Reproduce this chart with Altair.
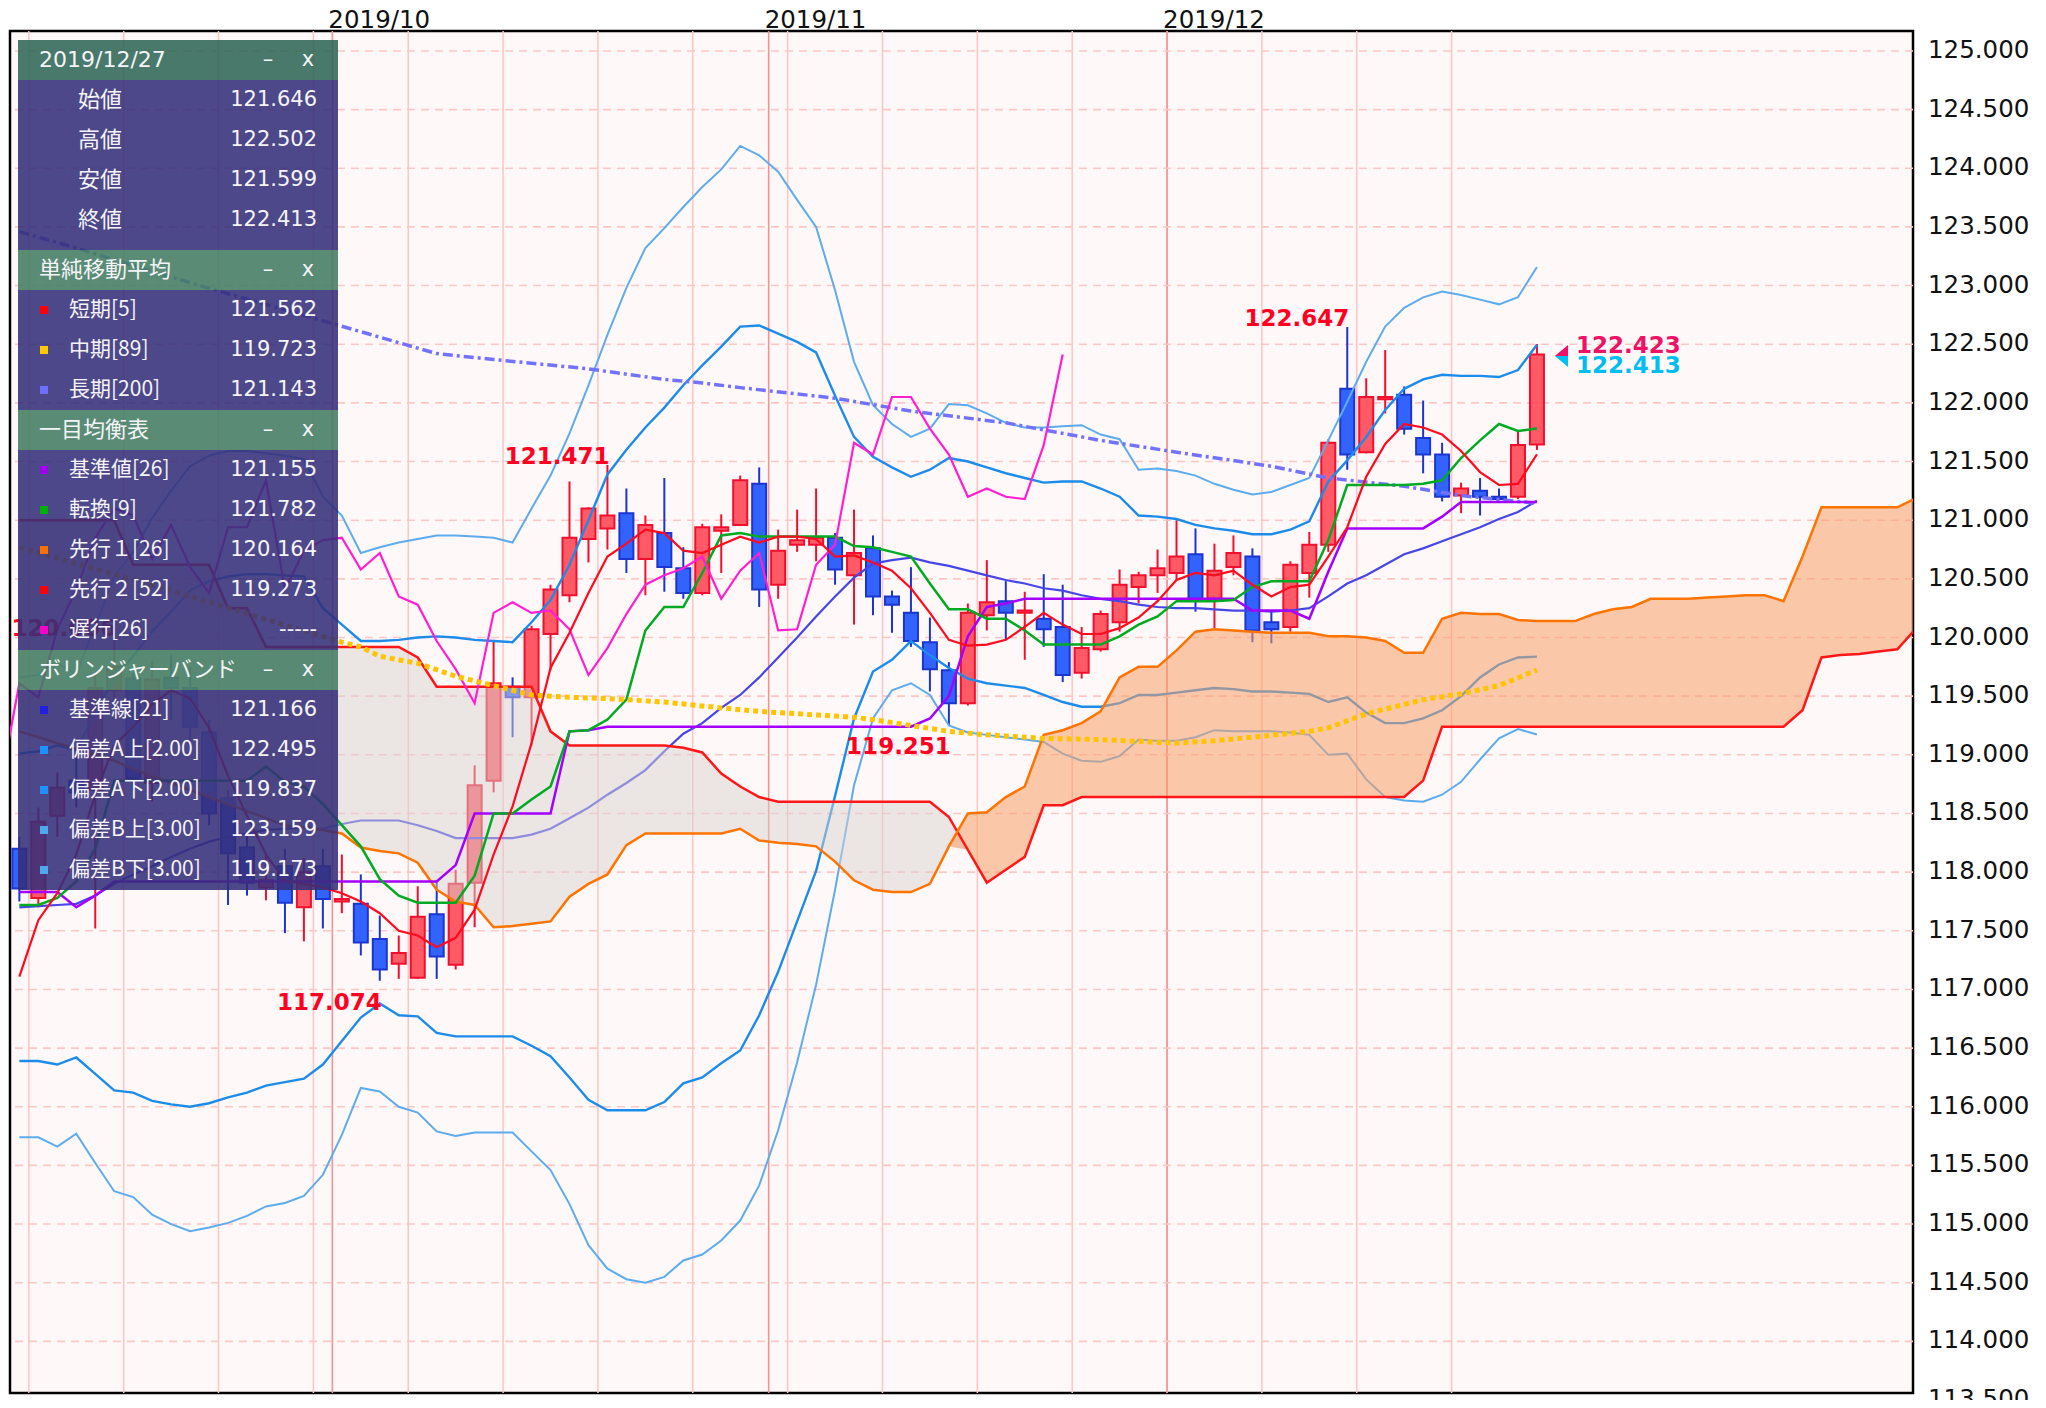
import altair as alt
import pandas as pd

# ---------------- data (index 0 = 2019-09-09, 79 = 2019-12-27, first candle = -1) ----------------
FIRST = -1

opens = [118.20, 117.78, 118.48, 118.78, 118.70, 119.55, 119.65, 118.76, 119.66, 119.57,
         119.19, 118.63, 118.21, 117.87, 118.05, 117.70, 118.05, 117.75, 117.73, 117.43,
         117.22, 117.10, 117.64, 117.21, 117.91, 118.78, 119.58, 119.49, 120.03, 120.36,
         120.84, 120.93, 121.06, 120.67, 120.89, 120.59, 120.38, 120.91, 120.96, 121.31,
         120.45, 120.79, 120.79, 120.85, 120.53, 120.76, 120.35, 120.21, 119.96, 119.72,
         119.44, 120.19, 120.31, 120.21, 120.16, 120.09, 119.70, 119.90, 120.13, 120.43,
         120.53, 120.55, 120.71, 120.33, 120.60, 120.69, 120.13, 120.09, 120.55, 120.79,
         122.12, 121.58, 122.03, 122.07, 121.70, 121.56, 121.21, 121.25, 121.20, 121.20,
         121.646]
highs = [118.30, 118.55, 118.85, 119.00, 119.70, 120.006, 119.70, 119.80, 119.85, 119.75,
         119.30, 118.70, 118.35, 118.15, 118.20, 118.12, 118.20, 118.15, 117.98, 117.63,
         117.46, 117.88, 117.93, 118.02, 118.91, 119.98, 119.66, 120.10, 120.45, 121.33,
         121.11, 121.471, 121.27, 121.04, 121.36, 120.77, 120.97, 121.05, 121.38, 121.45,
         120.92, 121.09, 121.27, 120.89, 121.09, 120.87, 120.40, 120.60, 120.17, 119.79,
         120.29, 120.66, 120.48, 120.39, 120.54, 120.45, 120.09, 120.23, 120.58, 120.56,
         120.75, 121.00, 120.93, 120.80, 120.87, 120.76, 120.23, 120.65, 120.90, 121.69,
         122.647, 122.21, 122.45, 122.14, 122.02, 121.66, 121.32, 121.36, 121.27, 121.76,
         122.502]
lows = [117.75, 117.70, 118.30, 118.55, 117.52, 119.30, 118.70, 118.60, 119.30, 119.05,
        118.40, 117.72, 117.80, 117.76, 117.48, 117.41, 117.52, 117.65, 117.29, 117.074,
        117.09, 117.09, 117.09, 117.17, 117.53, 118.68, 119.15, 119.08, 119.72, 120.30,
        120.64, 120.75, 120.55, 120.36, 120.39, 120.33, 120.36, 120.55, 120.95, 120.26,
        120.33, 120.73, 120.65, 120.45, 120.11, 120.19, 120.04, 119.92, 119.54, 119.251,
        119.42, 120.06, 119.98, 119.81, 119.92, 119.62, 119.65, 119.88, 120.05, 120.29,
        120.38, 120.49, 120.22, 120.08, 120.53, 119.96, 119.95, 120.05, 120.34, 120.73,
        121.43, 121.57, 121.91, 121.73, 121.40, 121.16, 121.06, 121.04, 121.17, 121.18,
        121.599]
closes = [117.86, 118.43, 118.72, 118.68, 119.57, 119.75, 118.80, 119.64, 119.57, 119.24,
          118.50, 118.16, 117.91, 117.93, 117.74, 118.00, 117.77, 117.77, 117.40, 117.17,
          117.31, 117.62, 117.28, 117.90, 118.74, 119.61, 119.49, 120.07, 120.41, 120.85,
          121.10, 121.04, 120.67, 120.96, 120.60, 120.38, 120.94, 120.94, 121.34, 120.41,
          120.74, 120.83, 120.85, 120.58, 120.72, 120.35, 120.28, 119.97, 119.73, 119.44,
          120.21, 120.30, 120.21, 120.23, 120.07, 119.68, 119.91, 120.20, 120.45, 120.53,
          120.59, 120.69, 120.33, 120.57, 120.72, 120.06, 120.07, 120.62, 120.79, 121.66,
          121.56, 122.05, 122.05, 121.78, 121.56, 121.20, 121.27, 121.20, 121.18, 121.64,
          122.413]

sma5 = [117.11, 117.59, 117.82, 118.15, 118.66, 119.08, 119.24, 119.43, 119.55, 119.48,
        119.23, 118.82, 118.48, 118.15, 117.93, 117.90, 117.87, 117.82, 117.75, 117.65,
        117.50, 117.46, 117.36, 117.44, 117.68, 118.15, 118.56, 119.10, 119.74, 120.04,
        120.38, 120.69, 120.80, 120.92, 120.89, 120.74, 120.72, 120.79, 120.86, 120.81,
        120.86, 120.86, 120.84, 120.69, 120.70, 120.64, 120.57, 120.42, 120.21, 119.98,
        119.93, 119.94, 119.98, 120.09, 120.21, 120.11, 120.03, 120.03, 120.08, 120.17,
        120.31, 120.49, 120.55, 120.53, 120.57, 120.45, 120.35, 120.43, 120.45, 120.69,
        120.94, 121.37, 121.65, 121.82, 121.79, 121.73, 121.59, 121.41, 121.30, 121.31,
        121.562]
sma89_idx = [-1, 7, 16, 17, 18, 20, 22, 24, 26, 28, 30, 33, 36, 38, 43, 44, 46, 48, 50, 53,
             56, 60, 62, 64, 67, 68, 70, 73, 75, 77, 79]
sma89_val = [120.77, 120.40, 119.96, 119.92, 119.84, 119.78, 119.67, 119.59, 119.51, 119.49,
             119.48, 119.45, 119.40, 119.37, 119.32, 119.30, 119.25, 119.20, 119.17, 119.14,
             119.13, 119.10, 119.12, 119.15, 119.20, 119.23, 119.35, 119.47, 119.52, 119.59,
             119.723]
sma200_idx = [-1, 2, 5, 10, 15, 21, 24, 29, 33, 35, 37, 42, 46, 51, 56, 60, 65, 68, 72, 75, 79]
sma200_val = [123.46, 123.32, 123.17, 122.93, 122.70, 122.42, 122.37, 122.29, 122.20, 122.17,
              122.13, 122.04, 121.93, 121.83, 121.68, 121.58, 121.46, 121.36, 121.29, 121.21,
              121.143]

tenkan = [117.72, 117.72, 117.78, 117.92, 118.20, 118.78, 118.78, 118.78, 118.78, 118.78,
          118.78, 118.78, 118.78, 118.90, 118.77, 118.73, 118.58, 118.40, 118.22, 117.94,
          117.80, 117.74, 117.74, 117.74, 117.97, 118.50, 118.50, 118.62, 118.73, 119.20,
          119.21, 119.30, 119.47, 120.06, 120.26, 120.26, 120.55, 120.87, 120.89, 120.86,
          120.86, 120.86, 120.86, 120.86, 120.78, 120.77, 120.73, 120.69, 120.46, 120.24,
          120.24, 120.16, 120.16, 120.06, 119.94, 119.94, 119.94, 119.94, 120.01, 120.11,
          120.18, 120.31, 120.31, 120.31, 120.32, 120.43, 120.48, 120.48, 120.48, 120.83,
          121.30, 121.30, 121.30, 121.30, 121.31, 121.34, 121.53, 121.68, 121.82, 121.76,
          121.782]
kijun = [117.83, 117.83, 117.83, 117.70, 117.80, 117.92, 117.92, 117.92, 117.92, 117.92,
         117.92, 117.92, 117.92, 117.92, 117.92, 117.92, 117.92, 117.92, 117.92, 117.92,
         117.92, 117.92, 117.92, 118.06, 118.50, 118.50, 118.50, 118.50, 118.50, 119.20,
         119.21, 119.24, 119.24, 119.24, 119.24, 119.24, 119.24, 119.24, 119.24, 119.24,
         119.24, 119.24, 119.24, 119.24, 119.24, 119.24, 119.24, 119.24, 119.31, 119.50,
         120.01, 120.26, 120.29, 120.33, 120.33, 120.33, 120.33, 120.33, 120.33, 120.33,
         120.33, 120.33, 120.33, 120.33, 120.33, 120.23, 120.23, 120.23, 120.16, 120.56,
         120.93, 120.93, 120.93, 120.93, 120.93, 121.03, 121.155, 121.155, 121.155, 121.155,
         121.155]
CHIKOU_FIRST = -2
chikou = [118.74, 119.61, 119.49, 120.07, 120.41, 120.85, 121.10, 121.04, 120.67, 120.96,
          120.60, 120.38, 120.94, 120.94, 121.34, 120.41, 120.74, 120.83, 120.85, 120.58,
          120.72, 120.35, 120.28, 119.97, 119.73, 119.44, 120.21, 120.30, 120.21, 120.23,
          120.07, 119.68, 119.91, 120.20, 120.45, 120.53, 120.59, 120.69, 120.33, 120.57,
          120.72, 120.06, 120.07, 120.62, 120.79, 121.66, 121.56, 122.05, 122.05, 121.78,
          121.56, 121.20, 121.27, 121.20, 121.18, 121.64, 122.413]
senkou_a = [119.20, 119.15, 119.10, 119.05, 119.00, 118.95, 118.88, 118.82, 118.76, 118.70,
            118.64, 118.58, 118.52, 118.46, 118.40, 118.38, 118.36, 118.33, 118.21, 118.18,
            118.16, 118.08, 117.85, 117.75, 117.72, 117.53, 117.54, 117.56, 117.58, 117.79,
            117.90, 117.98, 118.23, 118.33, 118.33, 118.33, 118.33, 118.33, 118.37, 118.27,
            118.25, 118.24, 118.22, 118.09, 117.93, 117.85, 117.83, 117.83, 117.90, 118.22,
            118.50, 118.51, 118.64, 118.73, 119.17, 119.21, 119.27, 119.37, 119.66, 119.75,
            119.75, 119.89, 120.05, 120.07, 120.06, 120.05, 120.04, 120.04, 120.04, 120.01,
            120.01, 120.00, 119.97, 119.87, 119.87, 120.16, 120.21, 120.20, 120.20, 120.15,
            120.14, 120.14, 120.14, 120.20, 120.24, 120.26, 120.33, 120.33, 120.33, 120.34,
            120.35, 120.36, 120.36, 120.31, 120.69, 121.11, 121.11, 121.11, 121.11, 121.11,
            121.19]
senkou_b = [121.00, 121.00, 121.00, 121.00, 121.00, 121.00, 120.62, 120.62, 120.62, 120.62,
            120.62, 120.25, 120.25, 119.92, 119.92, 119.92, 119.92, 119.92, 119.92, 119.92,
            119.92, 119.83, 119.58, 119.58, 119.58, 119.58, 119.58, 119.58, 119.20, 119.08,
            119.08, 119.08, 119.08, 119.08, 119.08, 119.06, 119.02, 118.84, 118.73, 118.64,
            118.60, 118.60, 118.60, 118.60, 118.60, 118.60, 118.60, 118.60, 118.60, 118.47,
            118.19, 117.91, 118.02, 118.13, 118.57, 118.57, 118.64, 118.64, 118.64, 118.64,
            118.64, 118.64, 118.64, 118.64, 118.64, 118.64, 118.64, 118.64, 118.64, 118.64,
            118.64, 118.64, 118.64, 118.64, 118.78, 119.24, 119.24, 119.24, 119.24, 119.24,
            119.24, 119.24, 119.24, 119.24, 119.24, 119.24, 119.24, 119.24, 119.24, 119.24,
            119.24, 119.24, 119.24, 119.24, 119.38, 119.83, 119.85, 119.86, 119.88, 119.90,
            120.08]

bb_mid = [117.70, 117.71, 117.72, 117.73, 117.80, 117.90, 117.98, 118.05, 118.13, 118.20,
          118.26, 118.30, 118.33, 118.36, 118.37, 118.38, 118.37, 118.41, 118.44, 118.44,
          118.44, 118.40, 118.35, 118.29, 118.29, 118.29, 118.29, 118.32, 118.37, 118.46,
          118.55, 118.66, 118.76, 118.87, 119.03, 119.18, 119.27, 119.40, 119.51, 119.66,
          119.83, 120.00, 120.18, 120.35, 120.51, 120.63, 120.66, 120.68, 120.64, 120.61,
          120.57, 120.53, 120.49, 120.46, 120.42, 120.40, 120.36, 120.33, 120.31, 120.28,
          120.26, 120.25, 120.25, 120.24, 120.23, 120.23, 120.22, 120.23, 120.25, 120.35,
          120.46, 120.53, 120.62, 120.71, 120.76, 120.82, 120.88, 120.94, 121.01, 121.07,
          121.166]
bb_up2 = [119.01, 119.03, 119.08, 119.04, 119.35, 119.66, 119.84, 120.05, 120.22, 120.40,
          120.48, 120.52, 120.54, 120.54, 120.53, 120.52, 120.25, 120.11, 119.97, 119.97,
          119.98, 120.00, 120.01, 120.00, 119.98, 119.97, 119.96, 120.13, 120.32, 120.62,
          121.00, 121.39, 121.60, 121.79, 121.96, 122.15, 122.32, 122.48, 122.65, 122.66,
          122.59, 122.52, 122.43, 122.06, 121.71, 121.54, 121.45, 121.37, 121.43, 121.53,
          121.50, 121.45, 121.40, 121.36, 121.32, 121.33, 121.33, 121.27, 121.20, 121.04,
          121.03, 121.01, 120.96, 120.93, 120.91, 120.88, 120.88, 120.92, 120.99, 121.33,
          121.51, 121.71, 121.94, 122.12, 122.20, 122.24, 122.23, 122.23, 122.22, 122.28,
          122.495]
bb_up3 = [119.66, 119.68, 119.78, 119.69, 120.10, 120.52, 120.73, 121.02, 121.25, 121.46,
          121.55, 121.59, 121.59, 121.57, 121.55, 121.52, 121.20, 121.04, 120.72, 120.77,
          120.81, 120.84, 120.87, 120.87, 120.86, 120.85, 120.81, 121.10, 121.38, 121.74,
          122.15, 122.58, 122.98, 123.32, 123.49, 123.67, 123.84, 123.99, 124.19, 124.11,
          123.97, 123.73, 123.50, 122.96, 122.35, 121.98, 121.82, 121.71, 121.78, 121.99,
          121.98, 121.91, 121.83, 121.79, 121.79, 121.80, 121.81, 121.73, 121.69, 121.43,
          121.44, 121.42, 121.38, 121.31, 121.26, 121.22, 121.24, 121.30, 121.36, 121.68,
          122.01, 122.35, 122.65, 122.81, 122.90, 122.95, 122.92, 122.88, 122.84, 122.90,
          123.159]
bb_dn2 = [116.39, 116.39, 116.36, 116.42, 116.28, 116.14, 116.12, 116.05, 116.02, 116.00,
          116.03, 116.08, 116.12, 116.18, 116.21, 116.24, 116.36, 116.56, 116.76, 116.88,
          116.78, 116.77, 116.63, 116.60, 116.60, 116.60, 116.60, 116.52, 116.43, 116.25,
          116.06, 115.97, 115.97, 115.97, 116.04, 116.20, 116.25, 116.37, 116.48, 116.78,
          117.15, 117.58, 118.01, 118.65, 119.31, 119.71, 119.81, 119.97, 119.85, 119.74,
          119.65, 119.61, 119.59, 119.57, 119.51, 119.45, 119.41, 119.41, 119.44, 119.51,
          119.51, 119.53, 119.55, 119.57, 119.56, 119.54, 119.54, 119.53, 119.52, 119.45,
          119.49, 119.36, 119.27, 119.27, 119.31, 119.38, 119.50, 119.66, 119.77, 119.83,
          119.837]
bb_dn3 = [115.74, 115.74, 115.66, 115.77, 115.52, 115.28, 115.23, 115.08, 115.00, 114.94,
          114.97, 115.01, 115.07, 115.15, 115.18, 115.24, 115.42, 115.76, 116.16, 116.13,
          116.00, 115.95, 115.79, 115.75, 115.78, 115.78, 115.78, 115.62, 115.46, 115.17,
          114.82, 114.62, 114.53, 114.50, 114.55, 114.69, 114.74, 114.86, 115.03, 115.33,
          115.80, 116.38, 117.04, 117.85, 118.74, 119.31, 119.55, 119.61, 119.51, 119.25,
          119.19, 119.17, 119.15, 119.13, 119.11, 119.01, 118.95, 118.94, 118.99, 119.13,
          119.12, 119.12, 119.15, 119.21, 119.20, 119.20, 119.20, 119.19, 119.17, 119.00,
          119.01, 118.79, 118.64, 118.61, 118.60, 118.66, 118.77, 118.96, 119.14, 119.22,
          119.173]

# extreme-price labels
ext_idx = [4, 18, 30, 48, 69]
ext_val = [120.006, 117.074, 121.471, 119.251, 122.647]
ext_kind = ["high", "low", "high", "low", "high"]

# current price marker
ask_price = 122.423
bid_price = 122.413

week_lines = [-0.5, 4.5, 9.5, 14.5, 19.5, 24.5, 29.5, 34.5, 39.5, 44.5, 49.5, 54.5,
              59.5, 64.5, 69.5, 74.5]
month_lines = [15.5, 38.5, 59.5]
month_labels = ["2019/10", "2019/11", "2019/12"]
price_ticks = [113.5, 114.0, 114.5, 115.0, 115.5, 116.0, 116.5, 117.0, 117.5, 118.0,
               118.5, 119.0, 119.5, 120.0, 120.5, 121.0, 121.5, 122.0, 122.5, 123.0,
               123.5, 124.0, 124.5, 125.0]

panel_sections = [
    ("2019/12/27", ["始値", "高値", "安値", "終値"],
     ["121.646", "122.502", "121.599", "122.413"], None),
    ("単純移動平均", ["短期[5]", "中期[89]", "長期[200]"],
     ["121.562", "119.723", "121.143"], ["#FF0000", "#FFC800", "#6F6FFF"]),
    ("一目均衡表", ["基準値[26]", "転換[9]", "先行１[26]", "先行２[52]", "遅行[26]"],
     ["121.155", "121.782", "120.164", "119.273", "-----"],
     ["#A000F0", "#00B000", "#FF7000", "#FF0000", "#FF00CC"]),
    ("ボリンジャーバンド", ["基準線[21]", "偏差A上[2.00]", "偏差A下[2.00]", "偏差B上[3.00]", "偏差B下[3.00]"],
     ["121.166", "122.495", "119.837", "123.159", "119.173"],
     ["#2020E0", "#1E90FF", "#1E90FF", "#4FA8EE", "#4FA8EE"]),
]

# ---------------- scales ----------------
W, H = 1903, 1362
xs = alt.Scale(domain=[-1.23, 98.56], nice=False, zero=False)
ys = alt.Scale(domain=[113.56, 125.17], nice=False, zero=False)


def X(field="i"):
    return alt.X(f"{field}:Q", scale=xs, axis=None)


def Y(field="v"):
    return alt.Y(f"{field}:Q", scale=ys, axis=None)


def series(first, values):
    return pd.DataFrame({"i": list(range(first, first + len(values))), "v": values})


def pairs(idx, values):
    return pd.DataFrame({"i": idx, "v": values})


def line(df, color, width, dash=None):
    kw = dict(color=color, strokeWidth=width, clip=True)
    if dash:
        kw["strokeDash"] = dash
    return alt.Chart(df).mark_line(**kw).encode(x=X(), y=Y())


# ---------------- grid + axis labels ----------------
hgrid = alt.Chart(pd.DataFrame({"v": price_ticks})).mark_rule(
    color="#FFC6C6", strokeWidth=1.6, strokeDash=[8, 6], clip=True).encode(y=Y())
weeks = alt.Chart(pd.DataFrame({"i": week_lines})).mark_rule(
    color="#FFC4C4", strokeWidth=1.5, clip=True).encode(x=X())
months = alt.Chart(pd.DataFrame({"i": month_lines})).mark_rule(
    color="#F39292", strokeWidth=1.6, clip=True).encode(x=X())

ylab_df = pd.DataFrame({"v": price_ticks, "t": [f"{v:.3f}" for v in price_ticks]})
ylabels = alt.Chart(ylab_df).mark_text(
    align="left", baseline="middle", font="DejaVu Sans", fontSize=24.5, color="#111111"
).encode(x=alt.value(W + 15), y=Y(), text="t:N")

mlab_df = pd.DataFrame({"i": month_lines, "t": month_labels})
mlabels = alt.Chart(mlab_df).mark_text(
    align="left", baseline="alphabetic", dx=-4, font="DejaVu Sans", fontSize=24.5,
    color="#111111"
).encode(x=X(), y=alt.value(-3), text="t:N")

# ---------------- candles ----------------
n = len(closes)
cdf = pd.DataFrame({"i": list(range(FIRST, FIRST + n)), "o": opens, "h": highs,
                    "l": lows, "c": closes})
cdf["dir"] = ["up" if c >= o else "down" for o, c in zip(opens, closes)]
stroke_sc = alt.Scale(domain=["up", "down"], range=["#F20F2D", "#1A35D0"])
fill_sc = alt.Scale(domain=["up", "down"], range=["#FF5A66", "#3363FF"])

wicks = alt.Chart(cdf).mark_rule(strokeWidth=2, clip=True).encode(
    x=X(), y=Y("l"), y2="h:Q", color=alt.Color("dir:N", scale=stroke_sc, legend=None))
bodies = alt.Chart(cdf).mark_bar(size=14, strokeWidth=2, clip=True).encode(
    x=X(), y=Y("o"), y2="c:Q",
    fill=alt.Fill("dir:N", scale=fill_sc, legend=None),
    stroke=alt.Stroke("dir:N", scale=stroke_sc, legend=None))

# ---------------- Bollinger ----------------
bb_layers = [
    line(series(FIRST, bb_up3), "#5CACEE", 2.0),
    line(series(FIRST, bb_dn3), "#5CACEE", 2.0),
    line(series(FIRST, bb_up2), "#1C8CEB", 2.4),
    line(series(FIRST, bb_dn2), "#1C8CEB", 2.4),
    line(series(FIRST, bb_mid), "#4646E6", 2.2),
]

# ---------------- cloud ----------------
cloud = pd.DataFrame({"i": list(range(FIRST, FIRST + len(senkou_a))),
                      "a": senkou_a, "b": senkou_b[:len(senkou_a)]})
cbase = alt.Chart(cloud).transform_calculate(lo="min(datum.a, datum.b)")
cloud_up = cbase.mark_area(color="#F6A067", opacity=0.55, clip=True).encode(
    x=X(), y=Y("a"), y2="lo:Q")
cloud_dn = cbase.mark_area(color="#D8D2D0", opacity=0.5, clip=True).encode(
    x=X(), y=Y("b"), y2="lo:Q")

# ---------------- other indicators ----------------
ind_layers = [
    line(pairs(sma200_idx, sma200_val), "#7272FF", 3.5, [10, 4, 3, 4]),
    line(series(FIRST, senkou_b), "#FF1616", 2.5),
    line(series(FIRST, senkou_a), "#FF7300", 2.5),
    line(series(FIRST, kijun), "#A400FF", 2.5),
    line(series(FIRST, tenkan), "#00AA22", 2.5),
    line(series(CHIKOU_FIRST, chikou), "#FF1ED2", 2.2),
    line(series(FIRST, sma5), "#FF0A1E", 2.2),
    line(pairs(sma89_idx, sma89_val), "#FFC400", 5, [5, 4]),
]

# ---------------- labels ----------------
ext = pd.DataFrame({"i": ext_idx, "v": ext_val, "kind": ext_kind})
ext["t"] = [f"{v:.3f}" for v in ext_val]
lab_kw = dict(font="DejaVu Sans", fontWeight="bold", fontSize=23, color="#FF0022", align="right")
hi_lab = alt.Chart(ext).transform_filter("datum.kind == 'high'").mark_text(
    baseline="alphabetic", dx=2, dy=-1, **lab_kw).encode(x=X(), y=Y(), text="t:N")
lo_lab = alt.Chart(ext).transform_filter("datum.kind == 'low'").mark_text(
    baseline="top", dx=2, dy=11, **lab_kw).encode(x=X(), y=Y(), text="t:N")

last_i = FIRST + n - 1
pm = pd.DataFrame({"i": [last_i], "v": [bid_price],
                   "ask": [f"{ask_price:.3f}"], "bid": [f"{bid_price:.3f}"]})
tri_up = alt.Chart(pm).mark_point(
    shape="M0.6,-1L-0.6,0L0.6,0Z", size=484, filled=True, opacity=1,
    color="#EE1166", xOffset=24.5, yOffset=1.5).encode(x=X(), y=Y())
tri_dn = alt.Chart(pm).mark_point(
    shape="M0.6,0L-0.6,0L0.6,1Z", size=484, filled=True, opacity=1,
    color="#00BFF0", xOffset=24.5, yOffset=1.5).encode(x=X(), y=Y())
ask_txt = alt.Chart(pm).mark_text(
    align="left", baseline="alphabetic", dx=39, dy=-1.5, font="DejaVu Sans",
    fontWeight="bold", fontSize=23, color="#EE1166").encode(x=X(), y=Y(), text="ask:N")
bid_txt = alt.Chart(pm).mark_text(
    align="left", baseline="top", dx=39, dy=1, font="DejaVu Sans",
    fontWeight="bold", fontSize=23, color="#00BFF0").encode(x=X(), y=Y(), text="bid:N")

# ---------------- info panel (pixel layout) ----------------
PX0, PX1, PY0 = 8, 328, 9
HEAD_H, ROW_H = 40, 40
rects, heads_date, heads, marks, labs_c, labs_l, vals, squares = [], [], [], [], [], [], [], []
y = PY0
for s, (title, labels, values, colors) in enumerate(panel_sections):
    rects.append(dict(x0=PX0, x1=PX1, y0=y, y1=y + HEAD_H,
                      col="#2F6657" if s == 0 else "#437C62"))
    (heads_date if s == 0 else heads).append(dict(px=PX0 + 21, py=y + HEAD_H / 2, t=title))
    marks.append(dict(px=258, py=y + HEAD_H / 2, t="–"))
    marks.append(dict(px=298, py=y + HEAD_H / 2, t="x"))
    y += HEAD_H
    body_h = ROW_H * len(labels) + (10 if s == 0 else 0)
    rects.append(dict(x0=PX0, x1=PX1, y0=y, y1=y + body_h, col="#342F79"))
    for k, (lab, val) in enumerate(zip(labels, values)):
        cy = y + ROW_H / 2 + k * ROW_H
        if colors is None:
            labs_c.append(dict(px=90, py=cy, t=lab))
        else:
            labs_l.append(dict(px=59, py=cy, t=lab))
            squares.append(dict(x0=30, x1=38, y0=cy - 4, y1=cy + 4, col=colors[k]))
        vals.append(dict(px=307, py=cy, t=val))
    y += body_h


def px_rect(rows, opacity):
    return alt.Chart(pd.DataFrame(rows)).mark_rect(opacity=opacity).encode(
        x=alt.X("x0:Q", scale=None, axis=None), x2="x1:Q",
        y=alt.Y("y0:Q", scale=None, axis=None), y2="y1:Q",
        fill=alt.Fill("col:N", scale=None, legend=None))


def px_text(rows, font, align, size=21):
    return alt.Chart(pd.DataFrame(rows)).mark_text(
        font=font, fontSize=size, align=align, baseline="middle", color="#F4F4F8"
    ).encode(x=alt.X("px:Q", scale=None, axis=None),
             y=alt.Y("py:Q", scale=None, axis=None), text="t:N")


CJK = "Noto Sans CJK JP"
panel_layers = [
    px_rect(rects, 0.88),
    px_rect(squares, 1.0),
    px_text(heads_date, "DejaVu Sans", "left", 22),
    px_text(heads, CJK, "left", 22),
    px_text(marks, "DejaVu Sans", "center", 21),
    px_text(labs_c, CJK, "center", 22),
    px_text(labs_l, CJK, "left", 21),
    px_text(vals, "DejaVu Sans", "right", 21),
]

chart = alt.layer(
    weeks, months, hgrid,
    wicks, bodies,
    *bb_layers,
    cloud_dn, cloud_up,
    *ind_layers,
    hi_lab, lo_lab,
    tri_up, tri_dn, ask_txt, bid_txt,
    *panel_layers,
    ylabels, mlabels,
).properties(
    width=W, height=H,
    padding={"left": 2, "top": 23, "right": 125, "bottom": 7},
    autosize=alt.AutoSizeParams(type="none"),
    background="white",
).configure_view(
    fill="#FFF8F8", stroke="#000000", strokeWidth=2.5
)

chart.save("out.html", embed_options={"renderer": "svg", "actions": False})
